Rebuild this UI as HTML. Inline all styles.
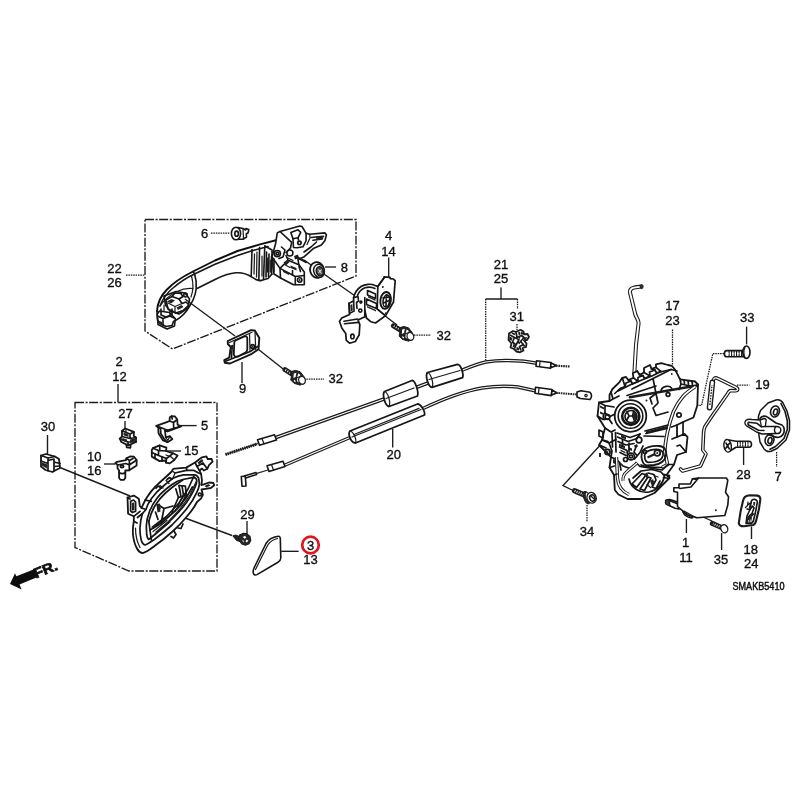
<!DOCTYPE html>
<html>
<head>
<meta charset="utf-8">
<title>Door lock parts diagram</title>
<style>
html,body{margin:0;padding:0;background:#fff;}
body{width:800px;height:800px;overflow:hidden;font-family:"Liberation Sans",sans-serif;}
svg{display:block;}
text{font-family:"Liberation Sans",sans-serif;font-size:13px;fill:#111;text-anchor:middle;stroke:#111;stroke-width:.35px;}
.l{stroke:#141414;stroke-width:1.6;fill:none;stroke-linecap:round;stroke-linejoin:round;}
.t{stroke:#1c1c1c;stroke-width:1.25;fill:none;stroke-linecap:round;stroke-linejoin:round;}
.h{stroke:#111;stroke-width:1.9;fill:none;stroke-linecap:round;stroke-linejoin:round;}
.w{stroke:#141414;stroke-width:1.6;fill:#fff;stroke-linecap:round;stroke-linejoin:round;}
.ld{stroke:#1a1a1a;stroke-width:1.35;fill:none;}
.dd{stroke:#1a1a1a;stroke-width:1.25;fill:none;stroke-dasharray:1.5 .9;}
.bx{stroke:#1a1a1a;stroke-width:1.35;fill:none;stroke-dasharray:9 1.6 2 1.6;}
.f{fill:#222;stroke:none;}
#ih .l,#latch .l,#p27 .l,#p10 .l,#p5 .l,#p15 .l,#p30 .l{stroke-width:1.7;}
#ih .w,#latch .w,#p27 .w,#p10 .w,#p5 .w,#p15 .w,#p30 .w{stroke-width:1.8;}
</style>
</head>
<body>
<svg width="800" height="800" viewBox="0 0 800 800">
<defs><filter id="soft" x="-2%" y="-2%" width="104%" height="104%"><feGaussianBlur stdDeviation="0.55"/></filter></defs>
<rect width="800" height="800" fill="#fff"/>
<g filter="url(#soft)">

<!-- ===== dashed boxes ===== -->
<g id="boxes">
<path class="bx" d="M145 219.5H356V276L172.5 349L145 331Z"/>
<path class="bx" d="M75 402.5H217V571H129L75 547.5Z"/>
</g>

<!-- ===== leaders ===== -->
<g id="leaders">
<path class="dd" d="M126 275H145"/>
<path class="dd" d="M211 233H230"/>
<path class="ld" d="M242 362V383"/>
<path class="ld" d="M118 384V402"/>
<path class="ld" d="M325 267H336"/>
<path class="ld" d="M388.7 257.5V278"/>
<path class="dd" d="M414 335H431"/>
<path class="dd" d="M304 379H324"/>
<path class="ld" d="M185 299L235 336"/>
<path class="ld" d="M256 347.5L287 372"/>
<path class="ld" d="M304 260L358 298"/>
<path class="ld" d="M380 312L397 325"/>
<path class="ld" d="M501 287.5V299M485.7 299H517.5"/>
<path class="dd" d="M485.7 299V361M517.5 299V309M517 324V331"/>
<path class="ld" d="M392.7 429V447.5"/>
<path class="ld" d="M47.5 435V454"/>
<path class="ld" d="M60 467.5L130 496"/>
<path class="ld" d="M125 421V429"/>
<path class="ld" d="M104 464H115"/>
<path class="ld" d="M164 451H181"/>
<path class="ld" d="M179 425.6H196.6"/>
<path class="ld" d="M247 521V535"/>
<path class="ld" d="M185 518L232 535.5"/>
<path class="ld" d="M281.3 551.3H298.7"/>
<path class="dd" d="M672.5 329.4V365"/>
<path class="ld" d="M746.6 326.6V344.4"/>
<path class="dd" d="M724 353.7H712.8L701.6 405.3H695"/>
<path class="dd" d="M737 385H749.4"/>
<path class="ld" d="M743.6 448V465"/>
<path class="dd" d="M776.6 452V467"/>
<path class="ld" d="M686.4 519V533"/>
<path class="ld" d="M721.6 533V550"/>
<path class="ld" d="M751.5 526.5V539"/>
<path class="dd" d="M587 505V522"/>
<path class="ld" d="M604.5 440.5L563 485.5L572 490"/>
<path class="ld" d="M665 500L712 521"/>
</g>

<!-- ===== cables ===== -->
<g id="cables">
<!-- upper cable -->
<path d="M276 437.5L384 399" stroke="#1a1a1a" stroke-width="3.5" fill="none"/>
<path d="M276 437.5L384 399" stroke="#fff" stroke-width="1.05" fill="none"/>
<path d="M416 387.5L428 383" stroke="#1a1a1a" stroke-width="3.5" fill="none"/>
<path d="M416 387.5L428 383" stroke="#fff" stroke-width="1.05" fill="none"/>
<path d="M460 371C470 367 478 363.5 486 362C496 360.3 512 360.3 524 361.3L537 363.3" stroke="#1a1a1a" stroke-width="3.5" fill="none"/>
<path d="M460 371C470 367 478 363.5 486 362C496 360.3 512 360.3 524 361.3L537 363.3" stroke="#fff" stroke-width="1.05" fill="none"/>
<!-- upper left tip -->
<path d="M225.5 454.5L257 444" stroke="#222" stroke-width="3" stroke-dasharray="1.5 .7" fill="none"/>
<path d="M225.5 454.5L257 444" stroke="#222" stroke-width="1.2" fill="none"/>
<path d="M246 447.5L258 443.5" stroke="#222" stroke-width="1" fill="none"/>
<path class="w" d="M257.5 439.8L274.5 434.8L276.5 440L259.5 445.2Z"/>
<path class="t" d="M262 438.6L264 443.8"/>
<!-- sleeve 1 -->
<path class="w" d="M384.5 391.5L412 380.5C415 380 419 392 417.5 396L389 406.5C385 406 382 394 384.5 391.5Z" style="stroke-width:1.8"/>
<path class="t" d="M386 398.5L414 388"/>
<path class="t" d="M384.5 391.5C388 392 391 403 389 406.5"/>
<!-- sleeve 2 -->
<path class="w" d="M427.5 372.5L457.5 364.3C461 364.3 464 375 462.5 377.7L432 387.3C428 387 425 375 427.5 372.5Z" style="stroke-width:1.8"/>
<path class="t" d="M429 379.5L460 370.5"/>
<path class="t" d="M427.5 372.5C431 373 434 384 432 387.3"/>
<!-- upper right end -->
<path class="w" d="M536.5 360.7L551 362.5L550.5 368.2L536 366.2Z"/>
<path class="t" d="M540 361.3L539.6 366.5"/>
<path class="w" d="M551 363L556.5 365.5L550.7 367.8Z"/>
<path d="M556 365.7L570 366.5" stroke="#222" stroke-width="2.2" stroke-dasharray="1.6 .8" fill="none"/>
<!-- lower cable -->
<path d="M284 465.5L350 437.5" stroke="#1a1a1a" stroke-width="3.5" fill="none"/>
<path d="M284 465.5L350 437.5" stroke="#fff" stroke-width="1.05" fill="none"/>
<path d="M423 408.5C440 400.5 462 391.5 482 388C494 386 508 385.8 518 387L536 391" stroke="#1a1a1a" stroke-width="3.5" fill="none"/>
<path d="M423 408.5C440 400.5 462 391.5 482 388C494 386 508 385.8 518 387L536 391" stroke="#fff" stroke-width="1.05" fill="none"/>
<!-- lower sleeve -->
<path class="w" d="M350 431L417.5 404C421 404 425.5 412 424.5 415L355.5 443C351 443 347.5 434 350 431Z" style="stroke-width:1.8"/>
<path class="t" d="M352 437L421 409.5"/>
<path class="t" d="M354 434.5L419 408.3"/>
<path class="t" d="M350 431C353.5 431.5 357 440 355.5 443"/>
<!-- lower left tip -->
<path class="w" d="M241.3 476.5L245.3 476L246 486L242 486.3Z"/>
<path class="w" d="M245 475.7L256 472.6L256.6 474.6L245.6 478Z"/>
<path d="M256 473.6L268 470" stroke="#222" stroke-width="1.2" fill="none"/>
<path class="w" d="M267 465.8L283 461.2L285 466.4L269 471.4Z"/>
<path class="t" d="M271.5 464.6L273.5 470"/>
<!-- lower right end -->
<path class="w" d="M535.5 387.3L552 389.5L551.3 395.6L535 393.2Z"/>
<path class="t" d="M539 388L538.5 393.5"/>
<path class="w" d="M552 390L557 393L551.5 395Z"/>
<path d="M556 392.8L577 394.5" stroke="#222" stroke-width="2" stroke-dasharray="1.6 .8" fill="none"/>
<path class="w" d="M577 392L581 390.8L590 392.3C592 394 592 397.5 590 399.5L580.5 398.5L577 397Z"/>
<circle cx="586" cy="395.6" r="1.2" class="t"/>
</g>

<!-- ===== parts ===== -->
<g id="parts">
<!-- ===== outer handle 22/26 ===== -->
<g id="handle">
<path class="h" d="M157 311C157.5 303 161.5 295 167 289.5C174 282 185 275.5 193 271.5L215 260.5L237.5 251L260 244.3L277 240"/>
<path class="l" d="M160 306C163 298 168 292 173 288C180 282 188 277 194.5 274L215 264.3L237.5 255.5L252 250.8L268 246.5"/>
<path class="l" d="M193 271.5L194.5 273.7C196.2 279 196.6 284 196.2 288.5C195.5 296 192 303.5 186.5 311C182.5 316 178 319.5 173.5 321.5"/>
<path class="t" d="M191.5 276C193.5 283 193.5 290 191 297"/>
<path class="l" d="M197 288.5L215 279.5C222 276 230 273.3 236 272.8C243 272.3 248 274.5 252 277.2C255 279.2 258 280.6 261 280.6"/>
<path class="l" d="M252 249.5L251.2 276.5M259.6 247.5L258.8 280.5M264.8 246L263.5 279.5"/>
<path class="t" d="M254.5 254L254 274M257 252L256.5 277"/>
<path class="l" d="M261 280.6L268 278.5L272 274"/>
<path class="l" d="M266.5 252L266 277M269 254L268.5 276.5M271.5 256.5L271.5 274.5"/>
<path class="t" d="M262 256L262 276M267.7 258L267.5 272M270.3 260L270.3 272"/>
<path class="l" d="M264.8 246L272 250L272 256"/>
<!-- left end mechanism -->
<path class="l" d="M157 311L157.5 320L160 323.5L166 326.5L172 325.5L173.5 321.5"/>
<path class="l" d="M157.5 316L163 318.5L163 325M163 318.5L170 316L174 318"/>
<path class="l" d="M161 309L161 315L166 317L172 314.5L172 309"/>
<path class="l" d="M166 300L172 296.5L179 299L182 303.5L186 302L189 305L183 310.5L176 313L168 309Z"/>
<path class="l" d="M172 296.5L175 293L181 293.5L183 296.5L179 299"/>
<path class="t" d="M168 303L175 306.5L182 303.5M175 306.5L175 312.5M164 305L164 311M170 311L170 315.5"/>
<ellipse class="l" cx="185.5" cy="295" rx="1.7" ry="2"/>
<path class="f" d="M167 301.5L171.5 299L175 300.5L171 303.5ZM176.5 307.5L181.5 305L183.5 307L178 310ZM158.5 320.5L162 322L162 325L158.5 323Z"/>
<path class="l" d="M157.3 314L159.5 311L169.3 312.5L175.3 318.5L174.5 326L167 329L158 324.5Z" style="stroke-width:1.6"/>
<path class="l" d="M164 296L176 291.5L185 293L189.5 299L188 308L179 314L170 311L165.5 305Z"/>
<path class="t" d="M160 306C164 300 170 295 177 291.5C182 289 188 288 193 288.5"/>
</g>
<!-- clip 6 -->
<g id="clip6">
<ellipse class="w" cx="236" cy="233.5" rx="4.6" ry="6.3"/>
<ellipse class="l" cx="236.6" cy="233.7" rx="1.8" ry="2.6"/>
<path class="l" d="M238 227.5L243 228.5L245.5 230L246 228.5L248.8 229.5L248 233L246.3 233.8L246.5 237L243 239.2L238.5 239.3"/>
<path class="t" d="M243 228.5L243.5 239"/>
</g>
<!-- lock mechanism on handle -->
<g id="hlock">
<path class="w" d="M275.5 244L277.3 232.9L280 231.5L299.8 226.1L302 226.5L306.1 233.3L309.7 234.2L325 232.9L326.4 234.7L325 240.5L321.4 245L313.3 248.6L304.3 256.7L298 259.4L298.9 264.8L304.3 272L304.3 284.6L293.5 284.8L280.5 278L273.7 273.8L271.9 256.7Z" style="stroke-width:1.6"/>
<path class="l" d="M280 231.5L291.7 242.3L290.5 248L286 252.5"/>
<path class="l" d="M290.8 232.4L298 229.7L300.7 232.4L298 237.8L293 238.7Z"/>
<path class="l" d="M298 237.8L298.5 240M293 238.7L293.5 247.5L297.1 247.7L303 246.8L306.1 240.5L306.1 233.3"/>
<circle class="l" cx="299.4" cy="242.8" r="1.7" style="stroke-width:1.7"/>
<path class="l" d="M311 237.5L323.5 236.3M313 240.3L322 239M316.5 242L311 247L304 252"/>
<path class="f" d="M316 236.8L323.5 236L323 239.3L316.5 240.2Z"/>
<path class="t" d="M309.7 234.2L310 238L307 244.5"/>
<circle class="w" cx="277.3" cy="253.6" r="3.1" style="stroke-width:1.7"/>
<circle class="l" cx="277.3" cy="253.6" r="1.3"/>
<circle class="l" cx="289.9" cy="253.1" r="3" style="stroke-width:1.5"/>
<path class="l" d="M271.9 256.7L280 268.4L288.1 260.3L298.9 264.8M280 268.4L280.5 278M288.1 260.3L286 255.5"/>
<path class="l" d="M281.5 247L285 250L283 257L279 258.5"/>
<path class="l" d="M295.3 276.5L304.3 275.5M295.3 276.5L295.3 284.6M280 268.4L295.3 276.5"/>
<circle class="l" cx="299.7" cy="280" r="2.2" style="stroke-width:1.6"/>
<circle class="f" cx="299.7" cy="280" r=".9"/>
<path class="f" d="M283.5 262.5L287.5 259.5L289.5 262L286 265.5ZM290.5 265.5L296.5 268L296.5 270.5L290.5 268ZM294 256L298 254.5L299 258L295 259.5ZM283 270L289 273L289 275L283 272Z"/>
<path d="M296.5 257L306 262" stroke="#1a1a1a" stroke-width="2.4" stroke-linecap="round"/>
<path class="l" d="M274 259L274 272M292.5 270.5L292.5 275M299 266.5L300.5 271.5"/>
<path class="t" d="M284.5 264.5L290 267.5M287 257.5L293 260.5"/>
</g>
<!-- nut 8 -->
<g id="nut8">
<ellipse class="w" cx="317" cy="270" rx="6.9" ry="8" transform="rotate(-15 317 270)" style="stroke-width:1.8"/>
<ellipse class="w" cx="319" cy="270.8" rx="5.3" ry="6.6" transform="rotate(-15 319 270.8)" style="stroke-width:1.5"/>
<ellipse cx="319.8" cy="271.3" rx="3.5" ry="4.6" transform="rotate(-15 319.8 271.3)" fill="#555" stroke="#1a1a1a" stroke-width="1.5"/>
<path d="M318.5 269.5L321.5 273.5M321.5 269.5L318.5 273" stroke="#fff" stroke-width=".9"/>
</g>
<!-- gasket 9 -->
<g id="p9">
<path class="w" d="M227.8 341L251 330.2L254.8 330.5L259.3 338L258.5 349.3L251.8 353.8L230 363.5L224.8 362.8L224.3 360.2L229.3 357.5L230.8 347L227.8 344Z" style="stroke-width:1.9"/>
<path class="l" d="M235.5 340.5L245 336.3C246.5 336 247.3 337 247.3 338.8L247.3 349.5C247.3 351 246.5 352 245 352.8L238.5 356.3C236 357.2 234 356.5 233.8 354.3L234.3 342.5C234.3 341.5 234.8 340.8 235.5 340.5Z" style="stroke-width:1.8"/>
<path class="l" d="M225.5 361.3L250.3 351.5L258.5 346"/>
<path class="l" d="M230.8 347L232.3 345.5L231.5 357.5"/>
<path class="t" d="M249.5 333.5L250 350.5M255 331.3L255.7 349.5"/>
<path class="t" d="M229 342.8L252 332.3"/>
<circle class="l" cx="252.6" cy="346.5" r="1.9"/>
<circle class="f" cx="252.6" cy="346.5" r=".9"/>
</g>
<!-- bolt symbol -->

<g transform="translate(302 380.3)">
<path d="M-17 -10.6L-8 -5" stroke="#1c1c1c" stroke-width="4.9" stroke-linecap="round" fill="none"/>
<path d="M-16.6 -10.4L-8 -5" stroke="#fff" stroke-width="1.9" stroke-dasharray=".9 1.5" fill="none"/>
<path d="M-11.3 -8.6L-6.5 -9.9L-1.9 -8.6L2 -3.6L-1.5 4.9L-8 3L-11.3 -0.3L-10.4 -4.7Z" fill="#222" stroke="#1a1a1a" stroke-width="1" stroke-linejoin="round"/>
<path d="M-8.2 -6.8L-5.6 -7.6L-6.4 -3.4L-8.6 -2.4ZM-3.8 -7L-1.5 -5.4L-3.4 -2.2L-4.8 -3ZM-8 -.5L-6.2 .8L-6.6 2L-8.2 1Z" fill="#fff"/>
<path d="M-5.2 -2.6L-1.5 -3.9L2.6 -2.2L1 3.9L-2.2 3.6L-5.6 1.2Z" fill="#fff" stroke="#1a1a1a" stroke-width="1.1" stroke-linejoin="round"/>
<ellipse cx="0" cy="0" rx="3.3" ry="4" transform="rotate(-22)" fill="#fff" stroke="#1a1a1a" stroke-width="1.2"/>
</g>
<g transform="translate(410.4 336.4)">
<path d="M-17 -10.6L-8 -5" stroke="#1c1c1c" stroke-width="4.9" stroke-linecap="round" fill="none"/>
<path d="M-16.6 -10.4L-8 -5" stroke="#fff" stroke-width="1.9" stroke-dasharray=".9 1.5" fill="none"/>
<path d="M-11.3 -8.6L-6.5 -9.9L-1.9 -8.6L2 -3.6L-1.5 4.9L-8 3L-11.3 -0.3L-10.4 -4.7Z" fill="#222" stroke="#1a1a1a" stroke-width="1" stroke-linejoin="round"/>
<path d="M-8.2 -6.8L-5.6 -7.6L-6.4 -3.4L-8.6 -2.4ZM-3.8 -7L-1.5 -5.4L-3.4 -2.2L-4.8 -3ZM-8 -.5L-6.2 .8L-6.6 2L-8.2 1Z" fill="#fff"/>
<path d="M-5.2 -2.6L-1.5 -3.9L2.6 -2.2L1 3.9L-2.2 3.6L-5.6 1.2Z" fill="#fff" stroke="#1a1a1a" stroke-width="1.1" stroke-linejoin="round"/>
<ellipse cx="0" cy="0" rx="3.3" ry="4" transform="rotate(-22)" fill="#fff" stroke="#1a1a1a" stroke-width="1.2"/>
</g>
<!-- bracket 4/14 -->
<g id="p4">
<path class="w" d="M383.9 278L384 276.8L390 277.3L390.2 278.6L393.5 279L395.2 280.8L393.5 302L385.6 315.6L375.5 323L371 321.8L366.5 318L364.8 310L364.8 316.8L358 320L359.8 324.6L359.2 334.8L355.3 341.5L349.6 343.2L346.3 340.4L345.7 333.6L341.8 328L339.5 321.3L341.8 318L349.6 314.5L349 303.3L353.6 301L353.6 297.6C355 292 358 288.5 361 286.5C365 284 371 283.5 375 285.5L377.8 286.4Z" style="stroke-width:1.7"/>
<path class="l" d="M383.9 278L377.8 286.4L377.2 309L384.5 315" style="stroke-width:1.7"/>
<ellipse class="l" cx="385.6" cy="300.4" rx="5.2" ry="8.5" transform="rotate(8 385.6 300.4)" style="stroke-width:1.9"/>
<ellipse class="l" cx="386.3" cy="301" rx="3.2" ry="6" transform="rotate(8 386.3 301)" style="stroke-width:1.6"/>
<path class="l" d="M383 298L389.5 297M383.5 303L389 300.5M386.5 294.5L386 306"/>
<circle class="f" cx="382.8" cy="287" r="1"/>
<circle class="f" cx="385.8" cy="313.2" r="1"/>
<path class="l" d="M357.5 295.4C359 291.5 362 289 365 287.8C368 286.8 372 287 375 288.5"/>
<path class="l" d="M364.8 297.6L364.8 316.8"/>
<path class="l" d="M367.5 290.5L375.5 294L375.5 298.5L367.5 295ZM366.5 299L376.5 303.5L376.5 308.5L366.5 304.5Z"/>
<path class="f" d="M368 296L375.5 299.5L375.5 301L368 297.5ZM367 306L376 310L376 311.5L367 307.5Z"/>
<path class="l" d="M349 303.3L349.6 313.4L354.1 311.1L353.6 301"/>
<path class="f" d="M350.3 305L352.3 304L352.8 310.5L350.8 311.5Z"/>
<path class="l" d="M344 321.3L357.5 319M344.5 323.8L358.6 322.4"/>
<path class="l" d="M353.6 297.6L358 296.5L358.5 301L356.5 302.5L357 308.5"/>
<ellipse class="l" cx="352.4" cy="336.4" rx="1.7" ry="2.3"/>
<circle class="l" cx="360.3" cy="310.6" r="1.6"/>
<circle class="l" cx="360.9" cy="302.1" r="1"/>
</g>
<!-- ===== inner handle group ===== -->
<g id="inner">
<!-- clip 27 -->
<g id="p27">
<path class="w" d="M122 430.8L125.3 428.5L133.8 431.9L133.8 436L136 437.5L136 442L128.1 445.4L121.4 442L119.7 438.6L122 436.5Z"/>
<path class="l" d="M122 430.8L130 434L133.8 431.9M130 434L130 438.5M122 436.5L130 438.5L136 437.5M119.7 438.6L128 442L136 442M128 442L128.1 445.4"/>
<path class="f" d="M122.5 438L127 439.5L127 442.3L122.5 440.8ZM130 439.5L135 438.3L135 441.3L130 442.5ZM123.5 432.5L128.5 434.5L128.5 437L123.5 435.3Z"/>
<path class="l" d="M126.4 445L126.6 447.3L130.4 447.8L130.7 445"/>
<path class="t" d="M126 429.8L126 433"/>
</g>
<!-- clip 5 -->
<g id="p5">
<path class="w" d="M169.6 421L169.8 417.2L171.5 416.2L175 416.4L177.2 419.5L177.6 424.8L181 426.3L167.5 431.3L164.9 430.5L165.8 437.5L169.8 436.2L172.3 439.2L167.5 442.2L163 440.5L158.5 433.2L158.3 427.6L156.3 425.8L167.5 421.8Z"/>
<path class="l" d="M156.3 425.8L167.5 430.2L181 426.3M167.5 430.2L167.5 431.3M158.3 427.6L160.5 428.5L160.8 433.5L164.5 439.5L167.5 442.2"/>
<path class="l" d="M169.6 421L173.5 422.5L177.2 419.5M173.5 422.5L173.7 427.8M171.5 416.2L172.3 419"/>
<path class="t" d="M165.8 437.5L167.8 440.5L169.8 436.2"/>
</g>
<!-- clip 15 -->
<g id="p15">
<path class="w" d="M152.9 448.2L159.6 445.4L166.4 447.6L166 451L173.1 453.3L177.6 455.5L174.3 460L169.8 463.4L166 462.6L165.5 460.5L159.6 461.1L151.8 456.6L151.8 450Z"/>
<path class="l" d="M152.9 448.2L158.5 450.5L166 451M158.5 450.5L158.5 455.5L151.8 452.5M158.5 455.5L166.5 458.5L173.1 453.3M166.5 458.5L166 462.6M159.6 445.4L159.8 450.5"/>
<path class="l" d="M155 453.8L155 458.3M162 457L162 461"/>
<path class="t" d="M166 455L171 456.8L174.3 460"/>
</g>
<!-- part 10/16 -->
<g id="p10">
<path class="w" d="M115.8 462.8L117 461.8L125.9 460.2L126.4 458.3L130 456.5L133.8 456.6L136.6 460L136.6 465.6L129.3 470.3L125.3 470.5L125.3 478L123.8 479.8L120.5 479.8L119.1 478L119.1 470.5L117.5 468.3L117.5 465Z"/>
<path class="l" d="M117.5 465L126 463.5L129.3 465L136.6 460M129.3 465L129.3 470.3M126.4 458.3L129.5 460.5L133 458.5M129.5 460.5L129.3 465"/>
<ellipse class="l" cx="122" cy="466.5" rx="1.7" ry="1.1"/>
<path class="l" d="M119.1 472.5C121 473.8 123.5 473.8 125.3 472.5"/>
<circle class="f" cx="115.6" cy="463.3" r="1.2"/>
</g>
<!-- part 30 -->
<g id="p30">
<path class="w" d="M41 455.5L46 454L55 456.5L59 459L60 468L55 470.5L52.5 472L45.5 470L41 466.5Z"/>
<path class="l" d="M41 455.5L48 458L55 456.5M48 458L48 470.7M41 461L48 463.5M48 460.5L54 459L54 470.5M54 462L60 463.5M54 466.5L59.5 466"/>
<path class="f" d="M42 462.5L47 464.3L47 468.5L42 465.8Z"/>
</g>
<!-- inner handle body -->
<g id="ih">
<path class="w" d="M172.3 471C172 469.5 173.5 468.3 175 468.6L186.3 467.6L195 462.5L202 457.3L206.4 456.3L207.7 459L211.6 459L212.6 461.6L209 465.1L207.3 468.8L203.8 470.5L202 468.6L199.4 470.4L201.1 474L202 480.5L201.3 485L203.8 484.4L209 482.5L213.4 483L214.3 485.3L210.8 488L205.5 488.8L201.5 489.5L202.9 494.9L201.1 498.4L197 502C194 508 190 513 186 517.5C182 522.5 177 527.5 172.5 531.5C167 536.5 161 541.5 154.5 546C150.5 549 146.5 552.3 142.5 553.1C139.5 552.5 138 550.5 137 548.5C135 545 133.5 540 133 534.5C132.6 530 133 525.5 133.8 521.3L133.8 516.3L128.1 513.8L127.5 497.5L133.8 495.6L138.8 498.8L139.8 506L141.5 508C143 504.5 144.5 501.5 146.5 498C149 494 152 490 155.5 486.5C160 482 166 477 172.3 471Z"/>
<!-- 2nd ring -->
<path class="l" d="M141.5 508L146 509.5C147 505.5 149 502 151.5 498.5C155 493.5 159 489.5 164 485.5C167 483 170 480.5 173 478.3C176.5 476.5 180 475.3 183.6 474.8L195 474.8C197 475.5 198.5 477 198.8 479L199.4 484.4C199 487.5 198 490 196.8 492.3C194 498.5 190.5 504 186.5 509C182 514.5 177 520 172 525C166.5 530 161 534.5 155 539C151.5 541.5 148 544 145 545C143 544.5 142 542.5 141.3 540.5C140.3 536.5 139.8 532 140 527.5C140.3 522.5 141 518 142.5 513.5L146 509.5"/>
<!-- 3rd ring -->
<path class="l" d="M146.3 526.3C146.5 521 147.5 516.5 149.5 511.5C151.5 506.5 154 502 157.5 497.5C161.5 492.5 166.5 488.5 172 484.5C175.5 482 179 480.3 182.8 479.5L193.3 477.4C195.5 477.6 196.6 478.8 196.8 480.5C196.8 483 196 485 195 487.3C193 492.5 190 497.5 186.5 502.5C182.5 508 177.5 513.5 172.5 518.5C167.5 523.5 162 528.5 156.5 533C153.5 535.5 151 538 148.5 539.5C147.5 538.5 147 536.5 146.7 534.5Z"/>
<!-- inner opening -->
<path class="l" d="M148.8 521.3C150 516 152 511 154.5 506.5C157.5 501.5 161 497 165.5 493C169 490 172 487.5 175 485.3L182.8 480"/>
<path class="l" d="M150 530L161 523.5L175 511L186 498L192.4 487"/>
<path class="l" d="M148.8 521.3L150 530L151.3 540"/>
<!-- lever -->
<path class="l" d="M175.8 488.8L178.4 497.5L186.3 495L185.4 486.1L179 485.5"/>
<path class="l" d="M179 485.5L181 496.8M182 485.8L183.6 495.8"/>
<path class="l" d="M178.4 497.5L172 512M186.3 495L181 505L175 511"/>
<path class="t" d="M181.5 498.5L176.5 509"/>
<!-- floor lines -->
<path class="l" d="M158.5 505L164 508.5L161 523.5M164 508.5L173 506"/>
<path class="f" d="M157 504L160 503.5L160.8 509L157.5 510Z"/>
<path class="t" d="M152 527L164 518M153 531.5L167 520.5M155 534.5L170 522"/>
<path class="l" d="M194 476L188 489L179 503L167 516L153 528"/>
<path class="t" d="M196 482L190 495L180 509L168 522L156 532"/>
<path class="l" d="M155.5 512L158 519.5"/>
<path class="f" d="M156.5 505L159.5 504L160.5 511.5L157.5 512.5Z"/>
<!-- top mech details -->
<path class="l" d="M175 473L186.3 470.4L194.1 470.4L198.5 473L201.1 474"/>
<path class="l" d="M186.3 467.6L187 470.4M195 462.5L197 466.5L203 463L207.3 468.8M197 466.5L199.4 470.4"/>
<path class="f" d="M197.5 462.5L202 459L203.5 461L199 464.5Z"/>
<path class="f" d="M204.5 486L208.5 484L210.5 485.5L206.5 487.5Z"/>
<path class="t" d="M172.3 471L175 473L173 478.3"/>
<circle class="l" cx="199.8" cy="494.5" r="1.5"/>
<!-- outer lip details -->
<path class="l" d="M145 500L151.3 501.3M137.5 517.5L142.5 513.5M133.8 521.3L137 523"/>
<path class="t" d="M135.5 528C135.5 535 137 542 140 547.5M160 485.5L163 488M166 480.5L169 483.5"/>
<path class="l" d="M156 488.3L158 486L161.5 488M167 479.5L169.5 477.5L172 479"/>
<path class="l" d="M171 536.5L173.5 538L176 534.5L174 531M178 528L181 528.5L183 524"/>
<!-- boss -->
<path class="l" d="M130.6 501.3L133.5 500L135.6 502L135.6 511.3L132.5 512.5L130.6 511Z"/>
<path class="f" d="M131.8 503L134.3 502.3L134.5 510L132 510.8Z"/>
<path class="l" d="M127.5 497.5L130 499M133.8 516.3L140 511.3"/>
</g>
<!-- screw 29 -->
<g id="p29">
<path d="M232.8 535.8L236 535L241 537.5L240 541.5L236.5 540.5Z" fill="#222" stroke="#1a1a1a" stroke-width="1" stroke-linejoin="round"/>
<path d="M239.5 535L243.5 533.3L247 533.8L250 536.5L250.8 540.5L249 543.8L245.5 545.3L241.8 544L240 541.5L238.5 538.5Z" fill="#2a2a2a" stroke="#1a1a1a" stroke-width="1.1" stroke-linejoin="round"/>
<path d="M242.8 537L245 535.8L246.3 537.5L244.5 538.8ZM246.8 539.5L248.3 540.8L246.8 542.5L245.5 541.3ZM242 540.3L243.8 540.8L243.5 542.5Z" fill="#fff"/>
</g>
<!-- cap 3/13 -->
<g id="p3">
<path class="w" d="M278 536.3C279.5 536 280.1 537 280.3 538.5L280.8 558C280.6 560 279.6 561.5 278 562.3L257 574.6C255 575.6 253.5 574.6 253.2 572.6C253 571 253.3 569.5 254 568L266 543.5C268.5 539.5 272.5 537.2 278 536.3Z" style="stroke-width:1.6"/>
<path class="t" d="M255.5 569.5L267.5 545.5C270 541.5 273.5 539.3 277.5 538.5"/>
</g>
</g>
<!-- ===== latch assembly 17/23 ===== -->
<g id="latch">
<!-- rod -->
<path d="M641 286.6L634 287.6C631 288.3 629.6 290 630 292.5L635.3 314.5C636.5 318 638.6 319.5 638.6 323L636 345L634.3 374" stroke="#1a1a1a" stroke-width="4" fill="none" stroke-linejoin="round"/>
<path d="M641 286.6L634 287.6C631 288.3 629.6 290 630 292.5L635.3 314.5C636.5 318 638.6 319.5 638.6 323L636 345L634.3 374" stroke="#fff" stroke-width="1.9" fill="none" stroke-linejoin="round"/>
<ellipse cx="641.6" cy="286.6" rx="1.5" ry="2.1" fill="#333" stroke="#1a1a1a" stroke-width="1"/>
<!-- body silhouette -->
<path class="w" d="M609.5 395L612.5 389L619.3 382.3L622.3 377.8L626 377L628.3 380L633.5 377.8L632.8 373.3L637.3 371L639.5 374.8L644 372.5L644 368L650 365L651.5 368.8L656 367.3L656 364.3L661.3 363.2L668 365L671.8 365.8L675.5 370.3L680 379.3L695 381.5L698 384.5L697.3 405.5L693.5 417.5L683 422L677 425L677 437L684.5 434L687.5 437L686 452L677 455L674 464.5L666.5 475L669.5 478L663.5 484L654.5 493L641 499L627.5 499L618.5 494.5L614.8 490L614 475L609.5 467.5L611 457L599 445L602 440L605 428L597.5 416L599 402.5L609.5 401Z"/>
<!-- top ridge teeth -->
<path class="l" d="M614.8 393.5L620 388.5L625 386.5L626 383L631 381L632.5 384L638 381.5L638 377.5L643 375.5L644.5 378.5L650 376L649.5 372L655 370L656.5 373L661 371.5"/>
<path class="l" d="M618 391L632 384L653 375.5L660 372L671 369.5L677 371"/>
<path class="l" d="M622.3 377.8L625 386.5M628.3 380L631 381M633.5 377.8L638 381.5M639.5 374.8L643 375.5M644 372.5L650 376M651.5 368.8L655 370M656 367.3L661 371.5"/>

<!-- top panel -->
<path class="l" d="M632 389L653 378.5L671 369.5M653 378.5L656 393.5L650 398L652 404"/>
<path class="l" d="M627 395.5L656 386"/>
<circle class="f" cx="671.8" cy="374" r=".9"/>
<!-- right block -->
<path class="l" d="M680 378.5L681 384L695 387L698 384.5M681 384L679 389.5"/>
<path class="l" d="M684 380L684.5 383.5M688 380.8L688.5 384.5M692 381.3L692.5 385.5"/>
<!-- thick diagonal bar -->
<path d="M629.8 397.3L697 385.5" stroke="#1a1a1a" stroke-width="2.4" fill="none" stroke-linecap="round"/>
<path class="l" d="M661 391.5C661 386 671.5 384 672 389.5"/>
<circle class="l" cx="668" cy="394.5" r="1.9"/>
<!-- gasket strip -->
<path d="M695.5 386.5C690 390 686 393 683 396.5C679 401 676 406 673.5 411.5C671 418 669 425 667.5 432C666 439 665 446 664.8 451L667.5 464.5L662 467.5" stroke="#1a1a1a" stroke-width="3.6" fill="none" stroke-linejoin="round"/>
<path d="M695.5 386.5C690 390 686 393 683 396.5C679 401 676 406 673.5 411.5C671 418 669 425 667.5 432C666 439 665 446 664.8 451L667.5 464.5L662 467.5" stroke="#fff" stroke-width="1.5" fill="none" stroke-linejoin="round"/>
<!-- mid body lines -->
<path class="l" d="M656 393.5L658 403L653 408L656 415.5L668 412"/>
<path class="l" d="M645 431L668 425M646 433.5L667 428.5M644 436L664 436.5"/>
<path d="M646 432.5L667 427" stroke="#1a1a1a" stroke-width="2.2" fill="none"/>
<circle class="f" cx="646.5" cy="400.5" r="1"/>
<circle class="l" cx="679" cy="415" r="2.2"/>
<path class="l" d="M677 425L671.5 427M677 437L672 439M686 452L680 445L677 446M674 464.5L668 464.5"/>
<path class="l" d="M683 422L683 434.8"/>
<!-- big cylinder -->
<circle class="w" cx="630.5" cy="416" r="15.8"/>
<circle class="l" cx="630.5" cy="416" r="12.3" style="stroke-width:1.6"/>
<circle class="l" cx="630.8" cy="416.3" r="8.6" style="stroke-width:2.6"/>
<circle class="l" cx="631" cy="416.5" r="6"/>
<path class="l" d="M627 411.5L629 416L626.5 420.5M634 411L632.5 416L635 421.5M629 416L632.5 416M628 423L633.5 423"/>
<path class="f" d="M632.5 411.5L636 413.5L636.3 419.5L633.8 421.5Z"/>
<!-- left lug -->
<path class="l" d="M599 402.5L605 405.5L614 407M605 405.5L605 413L610 416.5L614 414.5M597.5 416L603 419.5L609 419L612 423.5"/>
<path class="l" d="M605 413C603 414.5 602.5 417.5 604.5 419.5"/>
<circle class="l" cx="607.5" cy="417" r="2.3"/>
<path class="f" d="M600 405.5L604 407.5L604 409.5L600 407.5ZM600 411.5L603.5 413L603.5 415L600 413.5Z"/>
<path class="l" d="M611 392L613 399L609.5 401M613 399L619 396"/>
<!-- lower left mechanism -->
<path class="l" d="M605 428L611 432L615 430M602 440L609 443L612 451L611 457M609 443L616 439.5"/>
<path class="l" d="M612 433L612.5 447M615.5 432.5L616 452"/>
<circle class="l" cx="607.5" cy="452" r="2.6"/>
<circle class="f" cx="607.5" cy="452" r="1"/>
<path class="l" d="M617.5 437L628 441.5L637 438.5L640 434"/>
<circle class="l" cx="639" cy="440" r="2.8"/>
<circle class="l" cx="631" cy="456.5" r="3.4"/>
<circle class="l" cx="631" cy="456.5" r="1.5"/>
<path class="l" d="M618 441.5L626 445L634 443.5M619.5 447L627 450.5L627.5 455M620 452.5L626 455.5"/>
<path class="f" d="M619 443.5L625 446L625 448.5L619 446ZM620.5 449.5L625.5 452L625.5 453.5L620.5 451Z"/>
<path class="l" d="M634.5 459L640 452.5L643 446"/>
<path class="f" d="M621 435L626 437L626 439.5L621 437.5ZM628.5 447L632 448.5L632 451L628.5 449.5ZM613 459L616 460.5L616 464.5L613 463ZM634 445.5L637 444L638 446.5L635 448Z"/>
<path class="l" d="M617 433L630 437.5L640 434M622.5 440L622.5 446M629 443L629 452M636 447L634 452L636.5 455"/>
<circle class="l" cx="625.5" cy="459.5" r="2"/>
<path class="l" d="M599 430L603 432L603 438L599 436ZM600.5 445.5L606 448M603 440L608 441.5"/>
<path class="l" d="M611 457L617 460L623 466L630 468.5M619.5 462L621 470"/>
<!-- slot with circle -->
<path class="l" d="M642 452C644 447.5 652 445.5 659 446C664.5 446.5 667 450.5 666 455.5C665 460.5 660.5 464 654 465L647 465.5C642.5 465 640.5 458 642 452Z" style="stroke-width:1.8"/>
<path class="l" d="M645 453.5C647 450.5 653 449 658.5 449.5C662 450 663.5 452.5 663 455.5C662 459 658.5 461.5 653.5 462L648 462.3C645 462 644 457 645 453.5Z"/>
<circle class="l" cx="657.3" cy="453" r="2.9" style="stroke-width:1.7"/>
<circle class="f" cx="657.3" cy="453" r="1.1"/>
<circle class="l" cx="645" cy="452" r="1.6"/>
<path d="M647.5 457.5L655 454" stroke="#1a1a1a" stroke-width="2"/>
<path class="l" d="M641 465C645 467.5 656 467.5 662 467.5"/>
<path class="l" d="M636 462.5L640 466.5L662 470L668 464.5"/>
<!-- gasket around bottom -->
<path d="M616.5 457L617.5 478C618 486 622 491.5 629 494.5" stroke="#1a1a1a" stroke-width="3.4" fill="none"/>
<path d="M616.5 457L617.5 478C618 486 622 491.5 629 494.5" stroke="#fff" stroke-width="1.4" fill="none"/>
<path d="M637 463L627 471.5C624 474 622.5 477 623 481" stroke="#1a1a1a" stroke-width="3" fill="none"/>
<path d="M637 463L627 471.5C624 474 622.5 477 623 481" stroke="#fff" stroke-width="1.2" fill="none"/>
<!-- bottom semicircle mech -->
<path class="l" d="M629 479C631 488 640 493.5 649 492C657 490.5 663 484 664.5 476"/>
<path class="l" d="M633 478L641 471L652 469.5L661 472L664.5 476"/>
<path class="l" d="M632 484L642 473.5L646 475L636.5 487.5ZM640 489L648 477L651 478L644.5 490.5Z"/>
<path class="l" d="M648 473L654 474.5L656 480L652 487L656 488.5L660 481"/>
<path class="f" d="M643.5 474.5L647 472.5L648.5 475.5L646.5 478ZM650 481L653 479L654.5 483L652 486Z"/>
<path class="t" d="M647 484.5L650.5 487.5M654 475.5L658 477"/>
<path class="l" d="M663.5 474.3L669.5 475.5L669 478.5L663.5 477.5"/>
<path class="l" d="M609.5 467.5L614.5 466M614 475L617 474"/>
<path class="f" d="M599 453L601 453L601 457L599 457Z"/>
</g>
<!-- bolt 34 -->
<g id="b34">
<path d="M574.5 490.8L585 495.2" stroke="#1c1c1c" stroke-width="5.3" stroke-linecap="round" fill="none"/>
<path d="M574.6 490.9L585 495.2" stroke="#fff" stroke-width="2.3" stroke-dasharray=".9 1.3" fill="none"/>
<ellipse cx="586.6" cy="497.6" rx="2.8" ry="6.4" transform="rotate(-18 586.6 497.6)" fill="#2a2a2a" stroke="#1a1a1a" stroke-width="1"/>
<ellipse cx="588" cy="497.7" rx="2.2" ry="5.4" transform="rotate(-18 588 497.7)" fill="#fff" stroke="#1a1a1a" stroke-width=".9"/>
<ellipse cx="591.6" cy="497.8" rx="4.6" ry="5.4" transform="rotate(-18 591.6 497.8)" fill="#fff" stroke="#1a1a1a" stroke-width="1.3"/>
<ellipse cx="592.3" cy="498" rx="2.6" ry="3.2" transform="rotate(-18 592.3 498)" class="l"/>
<path class="t" d="M591 496L593.5 498.5"/>
</g>
<!-- bolt 33 -->
<g id="b33">
<path class="w" d="M727 350.6H743.5V356.8H727C723.5 356.8 723.5 350.6 727 350.6Z"/>
<path d="M728.5 353.7H743" stroke="#1a1a1a" stroke-width="5.2" stroke-dasharray="1.2 1.3" fill="none"/>
<path d="M726 353.7H743" stroke="#fff" stroke-width="1.6" stroke-dasharray="1.2 1.3" stroke-dashoffset="1.2" fill="none"/>
<ellipse class="w" cx="746.4" cy="352.2" rx="3.6" ry="6.2"/>
<path class="t" d="M745 347.5C743.5 350 743.5 355 745 357.5"/>
</g>
<!-- rod 19 -->
<g id="rod19">
<path d="M710.3 408L712.8 382C713.2 378.5 715 377 717.5 378.3L736 387.3C738.5 388.5 738 390.8 735.5 390.8L731 390.6C729.2 390.6 728.5 391.8 727.6 393.8L711 417.5L705 426.5C704 428.5 703.8 430 703.6 432.5L702.8 450L706 454L700.5 466L682.5 471L680.5 469" stroke="#1a1a1a" stroke-width="3.6" fill="none" stroke-linejoin="round" stroke-linecap="round"/>
<path d="M710.3 408L712.8 382C713.2 378.5 715 377 717.5 378.3L736 387.3C738.5 388.5 738 390.8 735.5 390.8L731 390.6C729.2 390.6 728.5 391.8 727.6 393.8L711 417.5L705 426.5C704 428.5 703.8 430 703.6 432.5L702.8 450L706 454L700.5 466L682.5 471L680.5 469" stroke="#fff" stroke-width="1.3" fill="none" stroke-linejoin="round" stroke-linecap="round"/>
<path d="M709.6 407.5L712.3 382.5" stroke="#1a1a1a" stroke-width="5.8" fill="none" stroke-linecap="round"/>
<path d="M709.6 407.5L712.3 382.5" stroke="#fff" stroke-width="3" fill="none" stroke-linecap="round"/>
<path d="M709.9 405L712 385" stroke="#222" stroke-width="1.4" stroke-dasharray="1.6 1.2"/>
</g>
<!-- striker 7 -->
<g id="p7">
<path class="w" d="M776 400C779 399.3 781.5 400.5 783 403L787 411L789.5 420.5L789.5 430L786 440L777 448.5L771 451.3C768 452 765.5 451 764 448.8L760 442L758.8 434L759.5 428L758 424L758.5 416L760.5 410.5L768 403Z" style="stroke-width:1.5"/>
<path class="l" d="M781 403.5L785 411.5L787.3 420.8L787.3 429.5L784 438.5L775.5 446.5L770 449.3"/>
<ellipse class="l" cx="775" cy="411.5" rx="4.4" ry="5.6" transform="rotate(15 775 411.5)"/>
<ellipse class="l" cx="775.5" cy="412" rx="2" ry="3" transform="rotate(15 775.5 412)"/>
<ellipse class="l" cx="769.5" cy="440" rx="4.4" ry="5.6" transform="rotate(15 769.5 440)"/>
<ellipse class="l" cx="770" cy="440.5" rx="2" ry="3" transform="rotate(15 770 440.5)"/>
<path class="l" d="M760 418.5C762 415.5 766 415.5 768 417.5L776 423L782 425C784.5 427 785 431.5 783 434.5C781 437.5 777 438 774 436.5L768 434.5"/>
<path class="w" d="M746 420.3C748 418.8 750 419 752 419.5L760 420L764 418.5C766 418.5 766.5 420 766 421.5L765.3 426.5L776 426.5C779.5 426.3 781 428 780.8 430.3C780.5 432.8 778.5 433.8 776 433.5L762 434L756.5 432L746.5 425.8C744.5 424.3 744.5 421.8 746 420.3Z" style="stroke-width:1.4"/>
<path class="l" d="M748.5 422.3L757 423.3L761.5 426.8L765.3 426.5M748.5 422.3C747.5 423.5 748 424.5 749 425.3L758.5 430.3L764 430.5"/>
<path class="t" d="M760 420L761.5 426.8"/>
<path class="l" d="M776 426.5C774 428.5 774 431.5 776 433.5"/>
</g>
<!-- screw 28 -->
<g id="s28">
<path class="w" d="M736 441.2H749C752.3 441.2 752.3 447.2 749 447.2H736L730 451L729 440Z"/>
<path d="M737 444.2H750" stroke="#1a1a1a" stroke-width="5.2" stroke-dasharray="1.2 1.4" fill="none"/>
<path d="M735.6 444.2H751" stroke="#fff" stroke-width="1.6" stroke-dasharray="1.4 1.2" fill="none"/>
<ellipse class="w" cx="727.6" cy="445.8" rx="3.7" ry="6.4" transform="rotate(-8 727.6 445.8)" style="stroke-width:1.4"/>
<path class="l" d="M726 443L729.3 448.8M729.5 443.3L725.8 448.3"/>
</g>
<!-- cover 1/11 -->
<g id="p1">
<path class="w" d="M667.5 499.8C665.8 499.8 665 502 666 504L675 508.3L679 509L679 502.5L670 499.5Z"/>
<path class="l" d="M667.5 499.8L677.5 503.8M669.3 501.5L669.8 505.5"/>
<ellipse cx="667.3" cy="502.3" rx="1.6" ry="2.5" fill="#444" stroke="#1a1a1a" stroke-width=".9"/>
<path class="w" d="M673.8 487.8H679V484H690.3L692.5 478.8L698.5 478H726.3L727.8 480.3L725.5 492.3L728.5 496.8L727.8 505L724.8 515.5L697 517.8L687.3 514.8L677.5 506.5V492.3L673.8 491.5Z"/>
<path class="l" d="M698.5 478L694.8 482.5L691 487L679.8 488.5M692.5 478.8L697 479.5"/>
<path class="l" d="M682.8 511.8C684 515 688 518.3 692.5 517.8"/>
<path class="t" d="M686 513.5L690 516.8M684 511L696 517.8"/>
<circle class="f" cx="715.8" cy="510.3" r="1"/>
</g>
<!-- screw 35 -->
<g id="s35">
<path d="M712.3 523.4L721 527.3" stroke="#1c1c1c" stroke-width="5" stroke-linecap="round" fill="none"/>
<path d="M712.6 523.6L721 527.3" stroke="#fff" stroke-width="2" stroke-dasharray=".9 1.3" fill="none"/>
<path d="M710.8 522.8L713.5 521.6L713 525.5Z" fill="#222"/>
<ellipse class="w" cx="724.3" cy="528.7" rx="3.4" ry="4.1" transform="rotate(-20 724.3 528.7)" style="stroke-width:1.3"/>
</g>
<!-- part 18/24 -->
<g id="p18">
<path d="M745 496.9C746.5 495.8 748 495.4 750 495.3L757.5 495.6C759.5 496 760.4 497.5 760.3 499.4L759 508.8L756.3 520C755.8 522.5 754.8 524.3 753.1 525L743.8 526.3C741 526.3 739 525 738.8 523.1L740.6 511.3L743.1 500.6C743.5 498.9 744 497.7 745 496.9Z" fill="#fff" stroke="#1a1a1a" stroke-width="2.1" stroke-linejoin="round"/>
<path class="l" d="M753 499.5C755.5 499 757.5 500 757.3 502.5L755.5 512L753.5 520.5C753 522.5 751.5 523.5 749.5 523.5L746 523.5L747 516L750 509.5L751 503C751.2 501 751.8 499.8 753 499.5Z"/>
<path class="l" d="M748 504.5L751 503M747 509L750 509.5L752.5 506L754 508L752 513.5L749.5 515.5M751.5 516L753.5 514"/>
<path class="f" d="M747.3 516.5L750.5 515L752 517.5L751 523L746.3 523.3ZM749 505.5L750.5 505L750.3 508L748.8 508.5ZM753.3 502L755.3 502L754.8 506L753.3 505Z"/>
<path d="M748.5 520L748.8 522.5M750.3 519.5L750.3 522.3" stroke="#fff" stroke-width=".7"/>
<path class="t" d="M745.5 507.5L747.5 505.5L748 502"/>
</g>
<!-- part 31 -->
<g id="p31">
<path d="M509 333.5L513 331L516 332L520.5 329.8L523.5 331.5L524 334.3L527.5 334L529 337L527 340L524 340.5L526.5 343.5L526 347L522.5 348L523.5 350.5L520 352.3L516.5 351.5L514 349L510.5 347.5L511.5 343.5L508.5 340Z" fill="#fff" stroke="#1a1a1a" stroke-width="1.8" stroke-linejoin="round"/>
<path d="M510 335L514.5 337.5L512.5 342L516 345L514.5 348.5M516 332L517 337.5L521.5 335.5L524 337.5L520.5 341.5L523.5 344.5L519.5 346.5L521 350.5M514.5 337.5L519 339.5L516 345M512 333L515 334.5M519 332L519.5 335M523 345.5L525 346M517.5 341.5L520 343.5" stroke="#1a1a1a" stroke-width="1.7" fill="none" stroke-linejoin="round"/>
<path d="M509.5 336.5L512.5 338L511.5 341L509 339.5ZM521 331.5L523.3 332.8L522.5 335L520.5 334ZM523.5 337.5L527 337L526.3 339.6L524 340ZM516.5 347L519.5 348L518.8 350.5L516.3 349.8ZM518 336.5L520.5 337L519.5 339ZM513.5 344L515.5 345.5L514 347.5L512.5 346.5Z" fill="#222"/>
</g>
<!-- FR arrow -->
<g id="fr">
<path d="M10 584L15 573.3L16.3 576.3L34.2 569.2L37 577.2L19.5 584.6L21.6 589.6Z" fill="#111"/>
<text transform="translate(36 578.6) rotate(-22)" x="0" y="0" style="font-size:14px;font-weight:bold;text-anchor:start;fill:#111;stroke-width:.7px" textLength="24.5" lengthAdjust="spacingAndGlyphs">FR.</text>
</g>
</g>

<!-- ===== labels ===== -->
<g id="labels">
<text x="204.6" y="237.5">6</text>
<text x="114.4" y="272.5">22</text>
<text x="114.4" y="286.5">26</text>
<text x="344.3" y="271.5">8</text>
<text x="388.5" y="240">4</text>
<text x="388.5" y="255.5">14</text>
<text x="443.8" y="339.5">32</text>
<text x="335.8" y="383">32</text>
<text x="242.5" y="392.5">9</text>
<text x="119" y="365.5">2</text>
<text x="119.4" y="380.5">12</text>
<text x="125.4" y="417.5">27</text>
<text x="204.7" y="430">5</text>
<text x="47.9" y="431.3">30</text>
<text x="94.3" y="461.3">10</text>
<text x="94.3" y="475">16</text>
<text x="191.3" y="454.5">15</text>
<text x="247.5" y="518.8">29</text>
<text x="310.6" y="549.5">3</text>
<text x="310.4" y="563.8">13</text>
<text x="393.8" y="458.8">20</text>
<text x="501" y="268.8">21</text>
<text x="501" y="282.5">25</text>
<text x="516.8" y="321.3">31</text>
<text x="672.5" y="310">17</text>
<text x="672.5" y="325">23</text>
<text x="747.2" y="321.5">33</text>
<text x="762.6" y="389">19</text>
<text x="743.6" y="479">28</text>
<text x="778" y="481">7</text>
<text x="587" y="536.3">34</text>
<text x="685.6" y="547">1</text>
<text x="686" y="562">11</text>
<text x="721" y="564.4">35</text>
<text x="750.8" y="553.6">18</text>
<text x="751.3" y="568">24</text>
<text x="758.5" y="590.4" style="font-size:10px;stroke-width:.45px" textLength="52" lengthAdjust="spacingAndGlyphs">SMAKB5410</text>
<circle cx="310.5" cy="545" r="8.3" fill="none" stroke="#e0121e" stroke-width="2.7"/>
</g>
</g>
</svg>
</body>
</html>
